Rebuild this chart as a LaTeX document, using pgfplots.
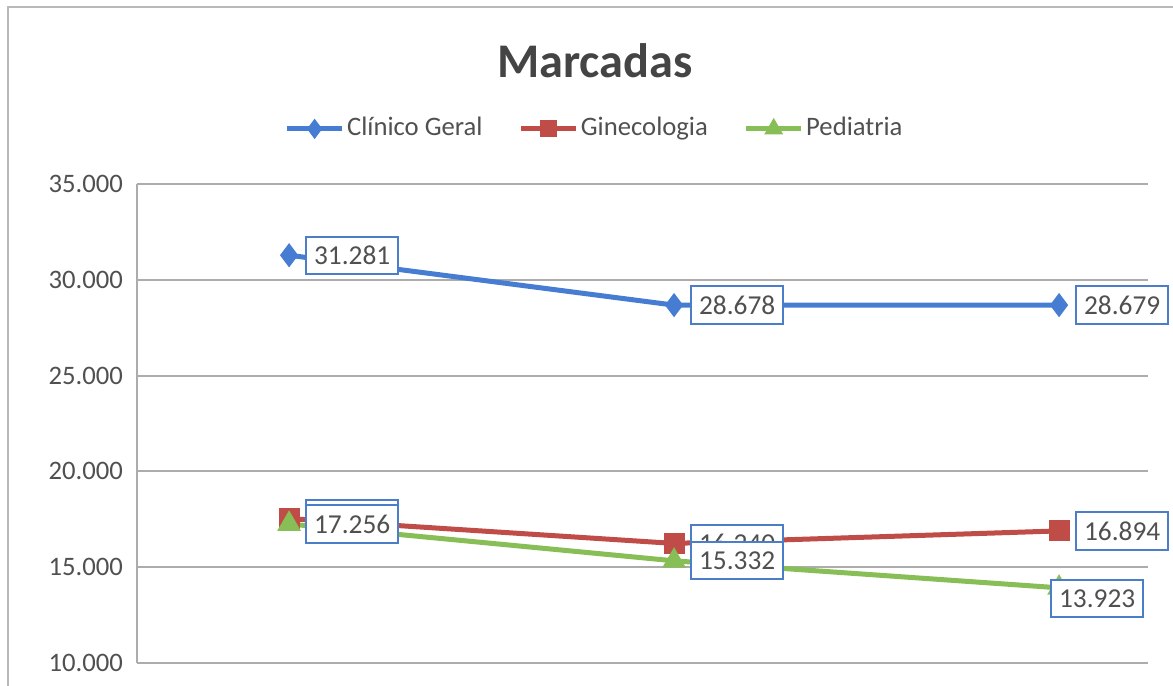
\documentclass[border=0pt]{standalone}
\usepackage{pgfplots}
\pgfplotsset{compat=1.18}
\usepackage{pgfplotstable}
\usepackage{fontspec}
\setmainfont{Carlito}
\definecolor{cblue}{RGB}{70,125,210}
\definecolor{cred}{RGB}{192,76,72}
\definecolor{cgreen}{RGB}{135,190,85}
\definecolor{lblbox}{RGB}{75,125,200}
\definecolor{txt}{RGB}{80,80,80}

\pgfplotstableread{
x y lab
0 31281 31.281
1 28678 28.678
2 28679 28.679
}\clinico
\pgfplotstableread{
x y lab
0 17540 17.540
1 16240 16.240
2 16894 16.894
}\gineco
\pgfplotstableread{
x y lab
0 17256 17.256
1 15332 15.332
2 13923 13.923
}\pedia

\pgfplotsset{
  lbls/.style={
    point meta=explicit symbolic,
    nodes near coords,
    every node near coord/.append style={
      font=\fontsize{8.2}{9}\selectfont, text=txt, anchor=west,
      xshift=4.8pt, draw=lblbox, line width=0.6pt, fill=white, solid,
      inner xsep=2.4pt, inner ysep=0pt, minimum height=11.2pt}},
}

\begin{document}
\begin{tikzpicture}
\useasboundingbox (0,0) rectangle (351.9pt,205.8pt);
\draw[gray!55, line width=0.7pt] (2.4pt,-20pt) rectangle (400pt,203.7pt);
\node[font=\bfseries\fontsize{14.5}{16}\selectfont, text=txt!85!black] at (178.5pt,187.5pt) {Marcadas};
\begin{axis}[
  at={(41.1pt,6.9pt)}, anchor=south west,
  scale only axis, width=303.3pt, height=143.7pt,
  xmin=-0.395, xmax=2.231,
  ymin=10000, ymax=35000,
  xtick=\empty,
  ytick={10000,15000,20000,25000,30000,35000},
  scaled y ticks=false,
  /pgf/number format/fixed,
  /pgf/number format/1000 sep={.},
  /pgf/number format/assume math mode=true,
  yticklabel style={font=\fontsize{8}{9}\selectfont, text=txt, inner sep=0pt, xshift=-4pt},
  major tick length=0pt,
  ymajorgrids, grid style={gray!65, line width=0.55pt},
  axis x line*=bottom, axis y line*=left,
  axis line style={gray!65, line width=0.55pt, -},
  clip=false,
  legend columns=3,
  legend style={at={(0.453,1.115)}, anchor=center, draw=none, fill=none,
    font=\fontsize{8}{9}\selectfont, text=txt, nodes={inner xsep=0.8pt},
    /tikz/every even column/.append style={column sep=10pt}},
  legend image code/.code={
    \draw[#1, mark repeat=2, mark phase=2, mark size=1.8pt]
      plot coordinates {(0pt,0pt) (8.2pt,0pt) (16.4pt,0pt)};},
]
\addplot[cblue, line width=1.5pt, mark=diamond*, mark size=2.4pt,
  mark options={solid}, lbls] table[x=x, y=y, meta=lab] {\clinico};
\addlegendentry{Clínico Geral}
\addplot[cred, line width=1.5pt, mark=square*, mark size=2.4pt,
  mark options={solid}, lbls] table[x=x, y=y, meta=lab] {\gineco};
\addlegendentry{Ginecologia}
\addplot[cgreen, line width=1.5pt, mark=triangle*, mark size=2.6pt,
  mark options={solid}, lbls,
  coordinate style/.condition={\coordindex==2}{anchor=north west, xshift=-7.5pt, yshift=-3.2pt}]
  table[x=x, y=y, meta=lab] {\pedia};
\addlegendentry{Pediatria}
\end{axis}
\end{tikzpicture}
\end{document}
